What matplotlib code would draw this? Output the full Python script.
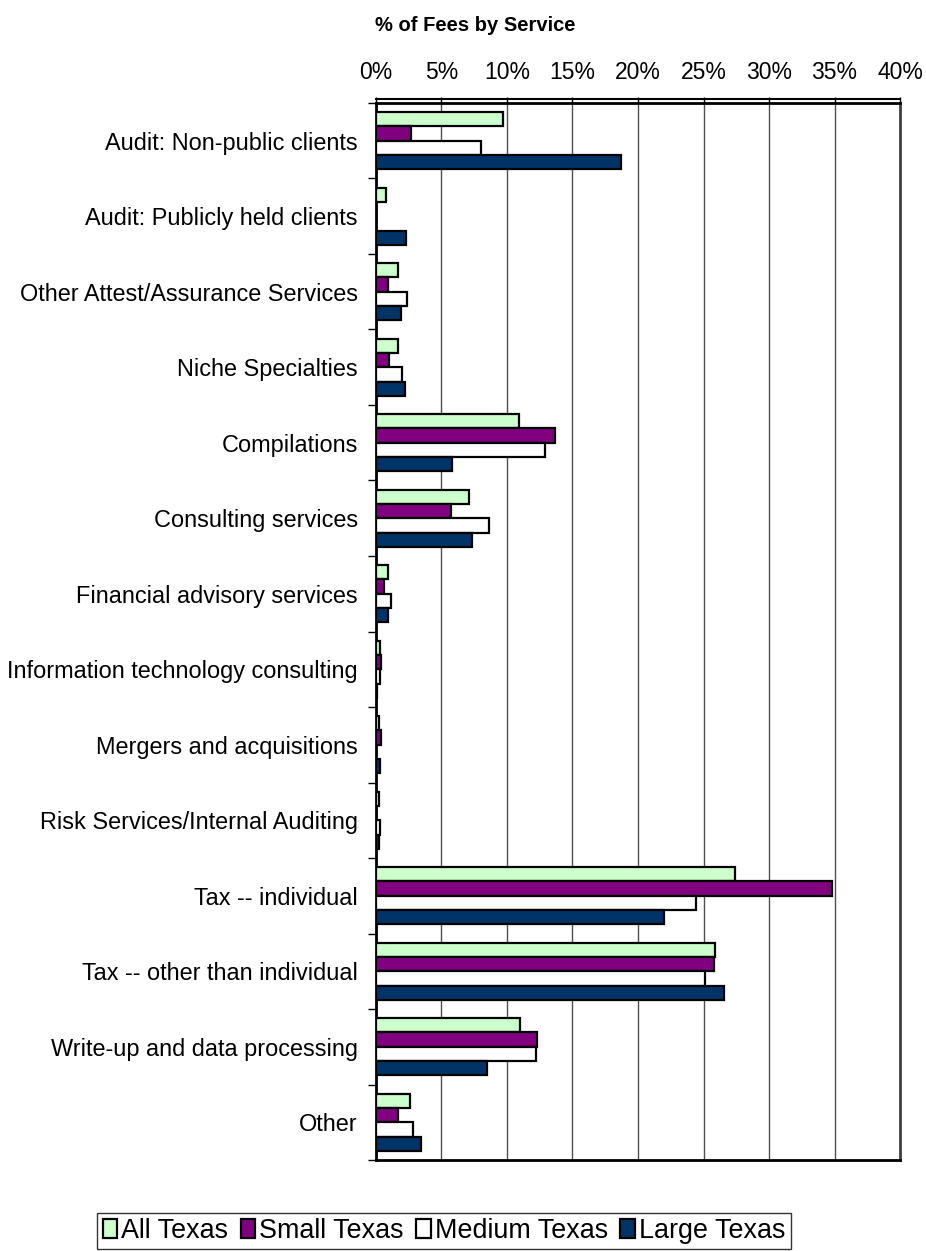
import numpy as np
import matplotlib.pyplot as plt
from matplotlib import transforms
from matplotlib.ticker import FuncFormatter, FixedLocator

plt.rcParams['font.family'] = ['Liberation Sans', 'DejaVu Sans']

# service categories, top to bottom
services = ['Audit: Non-public clients', 'Audit: Publicly held clients',
            'Other Attest/Assurance Services', 'Niche Specialties', 'Compilations',
            'Consulting services', 'Financial advisory services',
            'Information technology consulting', 'Mergers and acquisitions',
            'Risk Services/Internal Auditing', 'Tax -- individual',
            'Tax -- other than individual', 'Write-up and data processing', 'Other']

# % of fees
all_texas = [9.7, 0.8, 1.7, 1.7, 10.9, 7.1, 0.9, 0.3, 0.25, 0.2, 27.4, 25.9, 11.0, 2.6]
small_texas = [2.7, 0.0, 0.9, 1.0, 13.7, 5.7, 0.6, 0.4, 0.35, 0.0, 34.8, 25.8, 12.3, 1.7]
medium_texas = [8.0, 0.0, 2.4, 2.0, 12.9, 8.6, 1.15, 0.3, 0.0, 0.3, 24.4, 25.1, 12.2, 2.8]
large_texas = [18.7, 2.3, 1.9, 2.2, 5.8, 7.3, 0.9, 0.1, 0.3, 0.2, 22.0, 26.6, 8.5, 3.4]

series = [('All Texas', all_texas, '#CCFFCC'),
          ('Small Texas', small_texas, '#800080'),
          ('Medium Texas', medium_texas, '#FFFFFF'),
          ('Large Texas', large_texas, '#003366')]

fig = plt.figure(figsize=(9.26, 12.51), dpi=100)
ax = fig.add_axes([0.406, 0.0727, 0.566, 0.845])

y = np.arange(len(services))
h = 0.19
for i, (name, vals, col) in enumerate(series):
    ax.barh(y + (i - 1.5) * h, vals, height=h, color=col, edgecolor='black',
            linewidth=1.6, label=name, zorder=3)

ax.set_xlim(0, 40)
ax.set_ylim(len(services) - 0.5, -0.5)

# x axis on top
ax.xaxis.tick_top()
ax.set_xticks(np.arange(0, 41, 5))
ax.xaxis.set_major_formatter(FuncFormatter(lambda v, p: '%d%%' % v))
ax.tick_params(axis='x', direction='out', length=4, width=1, pad=10,
               labelsize=16.5, color='black')
ax.grid(axis='x', color='#505050', linewidth=1, zorder=0)

# category labels centred, ticks at group boundaries
ax.set_yticks(y)
ax.set_yticklabels(services)
ax.tick_params(axis='y', which='major', length=0, pad=13, labelsize=16.9)
ax.yaxis.set_minor_locator(FixedLocator(np.arange(-0.5, len(services), 1)))
ax.tick_params(axis='y', which='minor', direction='out', length=6, width=1)

for side in ['left', 'bottom', 'top']:
    ax.spines[side].set_linewidth(2)
    ax.spines[side].set_color('black')
ax.spines['right'].set_linewidth(2)
ax.spines['right'].set_color('#404040')

# second line above the top border
off = transforms.offset_copy(ax.transAxes, fig=fig, x=0, y=3.5, units='dots')
ax.plot([0, 1], [1, 1], color='black', linewidth=1.5, transform=off, clip_on=False)

fig.text(0.513, 0.98, '% of Fees by Service', ha='center', va='center',
         fontsize=14.5, fontweight='bold')

leg = fig.legend(loc='center', bbox_to_anchor=(0.4795, 0.016), ncol=4,
                 fontsize=19.4, frameon=True, fancybox=False, edgecolor='black',
                 handlelength=0.55, handleheight=0.7, handletextpad=0.15,
                 columnspacing=0.45, borderpad=0.2, borderaxespad=0)
leg.get_frame().set_linewidth(1)

fig.savefig('out.png', dpi=100)
